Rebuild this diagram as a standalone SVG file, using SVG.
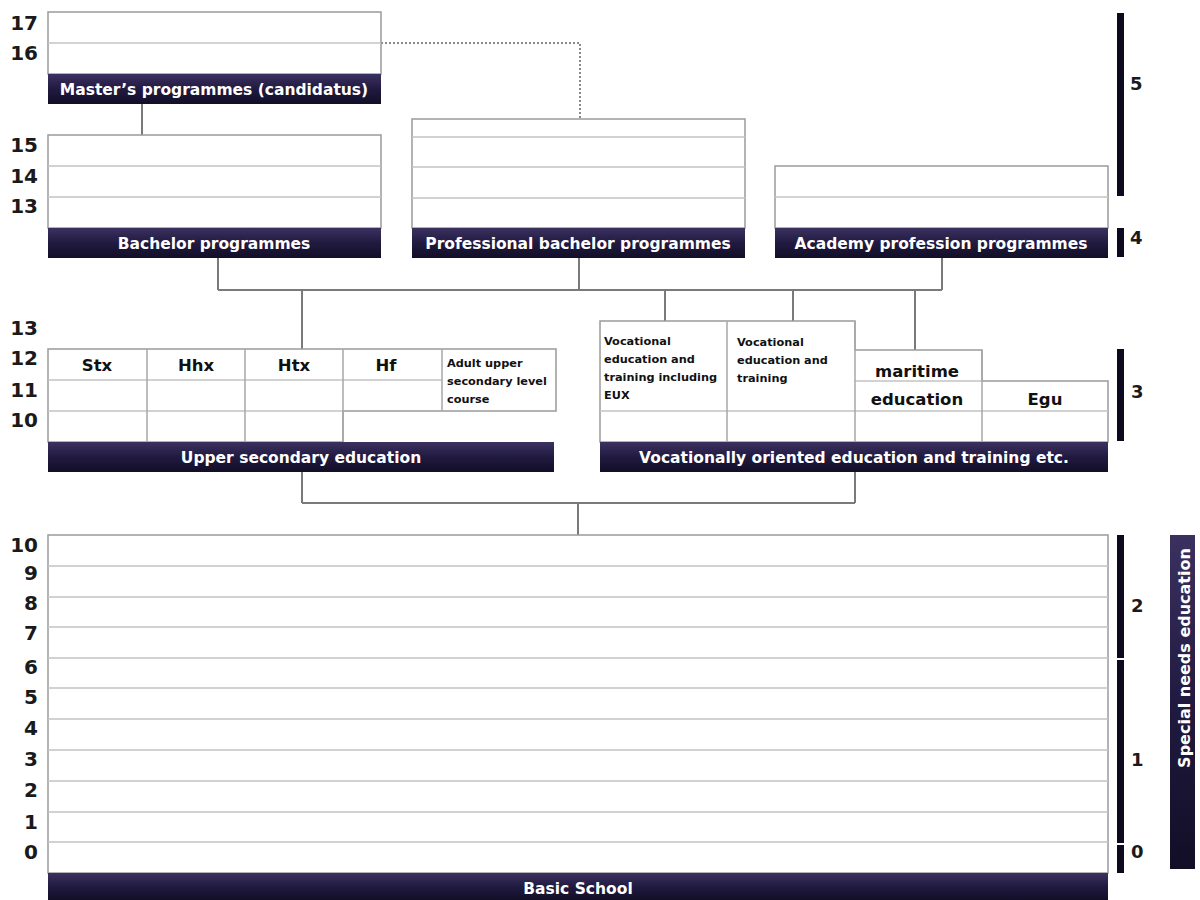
<svg xmlns="http://www.w3.org/2000/svg" width="1200" height="900" viewBox="0 0 1200 900">
<defs>
<linearGradient id="barg" x1="0" y1="0" x2="0" y2="1">
<stop offset="0" stop-color="#3b3160"/>
<stop offset="0.5" stop-color="#211a40"/>
<stop offset="1" stop-color="#120e26"/>
</linearGradient>
<style>
text{font-family:"DejaVu Sans","Liberation Sans",sans-serif;font-weight:bold}
.box{fill:#fff;stroke:#9a9a9a;stroke-width:1.5}
.row{stroke:#c4c4c4;stroke-width:1.5;fill:none}
.col{stroke:#a8a8a8;stroke-width:1.5;fill:none}
.bar{fill:url(#barg)}
.bt{fill:#fff;font-size:15.5px;text-anchor:middle}
.num{fill:#1a1a1a;font-size:20px;text-anchor:end}
.rnum{fill:#1a1a1a;font-size:18px}
.lvl{fill:#0d0a1f}
.ct{fill:#111;font-size:16.5px;text-anchor:middle}
.sm{fill:#111;font-size:11.3px}
.conn{stroke:#7a7a7a;stroke-width:2;fill:none}
.dot{stroke:#8a8a8a;stroke-width:2;fill:none;stroke-dasharray:2 2}
</style>
</defs>
<rect width="1200" height="900" fill="#fff"/>

<g id="connectors">
<path class="conn" d="M142 104V135"/>
<path class="dot" d="M381 43H580V119"/>
<path class="conn" d="M218 258V290M579 257V290M942 257V290M218 290H942"/>
<path class="conn" d="M302 290V349M665 290V321M793 290V321M915 290V350"/>
<path class="conn" d="M302 472V503M855 472V503M302 503H855M578 503V535"/>
</g>

<g id="masters">
<rect class="box" x="48" y="12" width="333" height="62"/>
<line class="row" x1="48" y1="43" x2="381" y2="43"/>
<rect class="bar" x="48" y="74" width="333" height="30"/>
<text class="bt" x="214" y="95">Master’s programmes (candidatus)</text>
</g>

<g id="bachelor">
<rect class="box" x="48" y="135" width="333" height="93"/>
<path class="row" d="M48 166H381M48 197H381"/>
<rect class="bar" x="48" y="228" width="333" height="30"/>
<text class="bt" x="214" y="249">Bachelor programmes</text>
</g>

<g id="professional-bachelor">
<rect class="box" x="412" y="119" width="333" height="109"/>
<path class="row" d="M412 137H745M412 167H745M412 198H745"/>
<rect class="bar" x="412" y="228" width="333" height="30"/>
<text class="bt" x="578" y="249">Professional bachelor programmes</text>
</g>

<g id="academy">
<rect class="box" x="775" y="166" width="333" height="62"/>
<path class="row" d="M775 197H1108"/>
<rect class="bar" x="775" y="228" width="333" height="30"/>
<text class="bt" x="941" y="249">Academy profession programmes</text>
</g>

<g id="upper-secondary">
<path class="box" d="M48 349H556V411H343V442H48Z"/>
<path class="row" d="M48 380H442M48 411H343"/>
<path class="col" d="M147 349V442M245 349V442M343 349V442M442 349V411"/>
<text class="ct" x="97" y="371">Stx</text>
<text class="ct" x="196" y="371">Hhx</text>
<text class="ct" x="294" y="371">Htx</text>
<text class="ct" x="386" y="371">Hf</text>
<text class="sm" x="447" y="367">Adult upper</text>
<text class="sm" x="447" y="385">secondary level</text>
<text class="sm" x="447" y="403">course</text>
<rect class="bar" x="48" y="442" width="506" height="30"/>
<text class="bt" x="301" y="463">Upper secondary education</text>
</g>

<g id="vocational">
<path class="box" d="M600 321H855V350H982V381H1108V442H600Z"/>
<path class="row" d="M855 381H982M600 411H1108"/>
<path class="col" d="M727 321V442M855 321V442M982 350V442"/>
<text class="sm" x="604" y="345">Vocational</text>
<text class="sm" x="604" y="363">education and</text>
<text class="sm" x="604" y="381">training including</text>
<text class="sm" x="604" y="399">EUX</text>
<text class="sm" x="737" y="346">Vocational</text>
<text class="sm" x="737" y="364">education and</text>
<text class="sm" x="737" y="382">training</text>
<text class="ct" x="917" y="377">maritime</text>
<text class="ct" x="917" y="405">education</text>
<text class="ct" x="1045" y="405">Egu</text>
<rect class="bar" x="600" y="442" width="508" height="30"/>
<text class="bt" x="854" y="463">Vocationally oriented education and training etc.</text>
</g>

<g id="basic-school">
<rect class="box" x="48" y="535" width="1060" height="338"/>
<path class="row" d="M48 566H1108M48 597H1108M48 627H1108M48 658H1108M48 688H1108M48 719H1108M48 750H1108M48 781H1108M48 812H1108M48 842H1108"/>
<rect class="bar" x="48" y="873" width="1060" height="27"/>
<text class="bt" x="578" y="894">Basic School</text>
</g>

<g id="special-needs">
<rect class="bar" x="1170" y="535" width="25" height="334"/>
<text class="bt" style="font-size:16px" transform="translate(1190 658) rotate(-90)">Special needs education</text>
</g>

<g id="grade-labels">
<text class="num" x="38" y="30">17</text>
<text class="num" x="38" y="60">16</text>
<text class="num" x="38" y="152">15</text>
<text class="num" x="38" y="183">14</text>
<text class="num" x="38" y="213">13</text>
<text class="num" x="38" y="335">13</text>
<text class="num" x="38" y="365">12</text>
<text class="num" x="38" y="397">11</text>
<text class="num" x="38" y="427">10</text>
<text class="num" x="38" y="552">10</text>
<text class="num" x="38" y="580">9</text>
<text class="num" x="38" y="610">8</text>
<text class="num" x="38" y="640">7</text>
<text class="num" x="38" y="674">6</text>
<text class="num" x="38" y="704">5</text>
<text class="num" x="38" y="735">4</text>
<text class="num" x="38" y="766">3</text>
<text class="num" x="38" y="797">2</text>
<text class="num" x="38" y="829">1</text>
<text class="num" x="38" y="859">0</text>
</g>

<g id="level-scale">
<rect class="lvl" x="1117" y="13" width="7" height="183"/>
<text class="rnum" x="1130" y="90">5</text>
<rect class="lvl" x="1117" y="228" width="7" height="29"/>
<text class="rnum" x="1130" y="244">4</text>
<rect class="lvl" x="1117" y="349" width="7" height="92"/>
<text class="rnum" x="1131" y="398">3</text>
<rect class="lvl" x="1117" y="535" width="7" height="123"/>
<text class="rnum" x="1131" y="612">2</text>
<rect class="lvl" x="1117" y="660" width="7" height="183"/>
<text class="rnum" x="1131" y="766">1</text>
<rect class="lvl" x="1117" y="845" width="7" height="28"/>
<text class="rnum" x="1131" y="858">0</text>
</g>
</svg>
